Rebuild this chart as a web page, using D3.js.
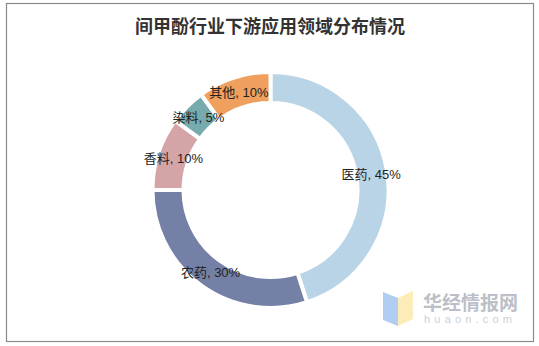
<!DOCTYPE html>
<html>
<head>
<meta charset="utf-8">
<script src="https://cdn.jsdelivr.net/npm/d3@7"></script>
<style>
  html, body { margin: 0; padding: 0; background: #fff; }
  svg { display: block; }
</style>
</head>
<body>
<svg id="chart" width="539" height="346"></svg>
<script>
const title = "间甲酚行业下游应用领域分布情况";
const categories = ["医药", "农药", "香料", "染料", "其他"];
const values = [45, 30, 10, 5, 10];
const colors = ["#B8D4E6", "#7580A6", "#D5A4A6", "#78ABAD", "#EFA05E"];

const W = 539, H = 346;
const svg = d3.select("#chart");

// frame
svg.append("rect")
  .attr("x", 6.5).attr("y", 3.5)
  .attr("width", 527).attr("height", 338)
  .attr("fill", "#fff")
  .attr("stroke", "#8a8a8a").attr("stroke-width", 1.2);

// title
svg.append("text")
  .attr("x", 270).attr("y", 25)
  .attr("text-anchor", "middle")
  .attr("dominant-baseline", "central")
  .attr("font-family", "'Noto Sans CJK SC', sans-serif")
  .attr("font-size", 18)
  .attr("font-weight", 700)
  .attr("fill", "#333")
  .text(title);

const cx = 270.5, cy = 190;
const g = svg.append("g").attr("transform", `translate(${cx},${cy})`);

const pie = d3.pie().sort(null).value(d => d.value).startAngle(0).endAngle(2 * Math.PI);
const data = categories.map((c, i) => ({ name: c, value: values[i], color: colors[i] }));
const arcs = pie(data);

const arc = d3.arc().innerRadius(87).outerRadius(118);
const labelArc = d3.arc().innerRadius(102).outerRadius(102);

g.selectAll("path.slice")
  .data(arcs)
  .join("path")
  .attr("class", "slice")
  .attr("d", arc)
  .attr("fill", d => d.data.color)
  .attr("stroke", "#fff")
  .attr("stroke-width", 4)
  .attr("stroke-linejoin", "miter");

g.selectAll("text.lbl")
  .data(arcs)
  .join("text")
  .attr("class", "lbl")
  .attr("transform", d => `translate(${labelArc.centroid(d)})`)
  .attr("text-anchor", "middle")
  .attr("dominant-baseline", "central")
  .attr("font-family", "'Liberation Sans', Arial, 'Noto Sans CJK SC', sans-serif")
  .attr("font-size", 13)
  .attr("fill", "#222")
  .text(d => `${d.data.name}, ${d.data.value}%`);

// watermark logo
const wm = svg.append("g").attr("opacity", 0.9);
wm.append("polygon")
  .attr("points", "383,292 398,298 398,326 383,320")
  .attr("fill", "#A9C8F0");
wm.append("polygon")
  .attr("points", "398,298 413,291 413,319 398,326")
  .attr("fill", "#FCEBB0");
wm.append("text")
  .attr("x", 423).attr("y", 301)
  .attr("dominant-baseline", "central")
  .attr("font-family", "'Noto Sans CJK SC', sans-serif")
  .attr("font-size", 19)
  .attr("font-weight", 700)
  .attr("fill", "#B5B9C2")
  .text("华经情报网");
wm.append("text")
  .attr("x", 424).attr("y", 319)
  .attr("dominant-baseline", "central")
  .attr("font-family", "'Liberation Sans', Arial, sans-serif")
  .attr("font-size", 11)
  .attr("letter-spacing", 4.2)
  .attr("fill", "#C8CBD2")
  .text("huaon.com");
</script>
</body>
</html>
